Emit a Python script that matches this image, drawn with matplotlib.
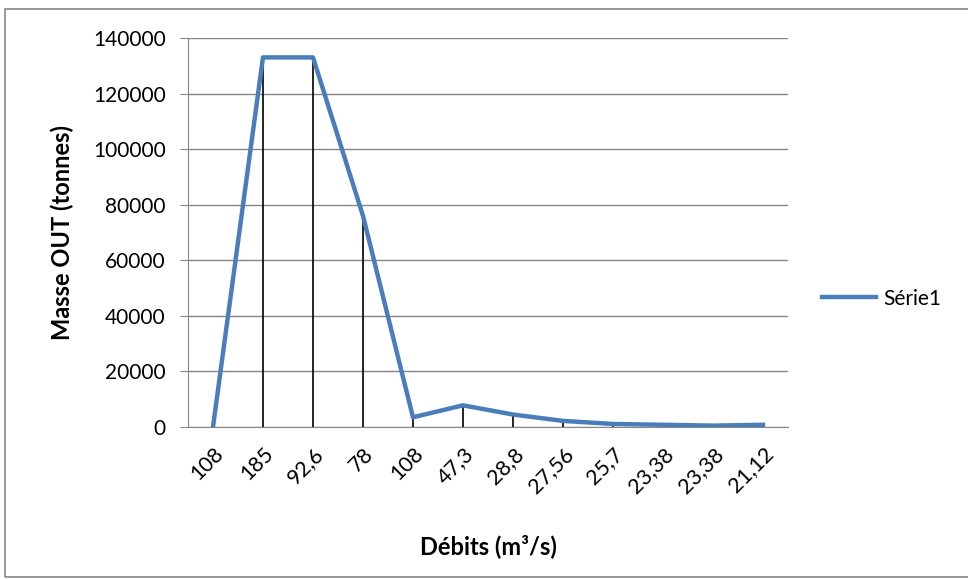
import matplotlib
matplotlib.use('Agg')
import matplotlib.pyplot as plt
from matplotlib.patches import Rectangle

# Débits (m3/s) as category labels, masse OUT (tonnes)
debits = ['108', '185', '92,6', '78', '108', '47,3', '28,8', '27,56',
          '25,7', '23,38', '23,38', '21,12']
masse = [0, 133000, 133000, 76000, 3500, 7800, 4500, 2200,
         1100, 800, 500, 800]

plt.rcParams['font.family'] = ['Lato', 'DejaVu Sans']

fig = plt.figure(figsize=(9.68, 5.79), dpi=100)
ax = fig.add_axes([0.1942, 0.2625, 0.6198, 0.672])

x = list(range(len(debits)))
ax.vlines(x, 0, masse, color='black', linewidth=1.2, zorder=2)
ax.plot(x, masse, color='#4a7ebb', linewidth=3.2, solid_joinstyle='round',
        label='Série1', zorder=3)

ax.set_xlim(-0.5, len(debits) - 0.5)
ax.set_ylim(0, 140000)
ax.set_yticks(range(0, 140001, 20000))
ax.set_xticks(x)
ax.set_xticklabels(debits, rotation=45, ha='right', va='top',
                   rotation_mode='anchor', fontsize=15.5)
ax.tick_params(axis='y', labelsize=15, length=6, color='#868686', pad=10)
ax.tick_params(axis='x', length=0, pad=12)
ax.grid(axis='y', color='#868686', linewidth=1)
ax.set_axisbelow(True)
for s in ['top', 'right']:
    ax.spines[s].set_visible(False)
ax.spines['left'].set_color('#868686')
ax.spines['bottom'].set_color('#868686')

ax.set_ylabel('Masse OUT (tonnes)', fontsize=17, fontweight='bold', labelpad=14)
ax.set_xlabel('Débits (m³/s)', fontsize=17, fontweight='bold', labelpad=27)

ax.legend(loc='center left', bbox_to_anchor=(1.025, 0.33), frameon=False,
          fontsize=15, handlelength=2.6, handletextpad=0.35)

fig.patches.append(Rectangle((5 / 968, 2 / 579), 1.2, 1 - 11 / 579,
                             transform=fig.transFigure, fill=False,
                             edgecolor='#868686', linewidth=1.2))

plt.savefig('out.png', dpi=100)
